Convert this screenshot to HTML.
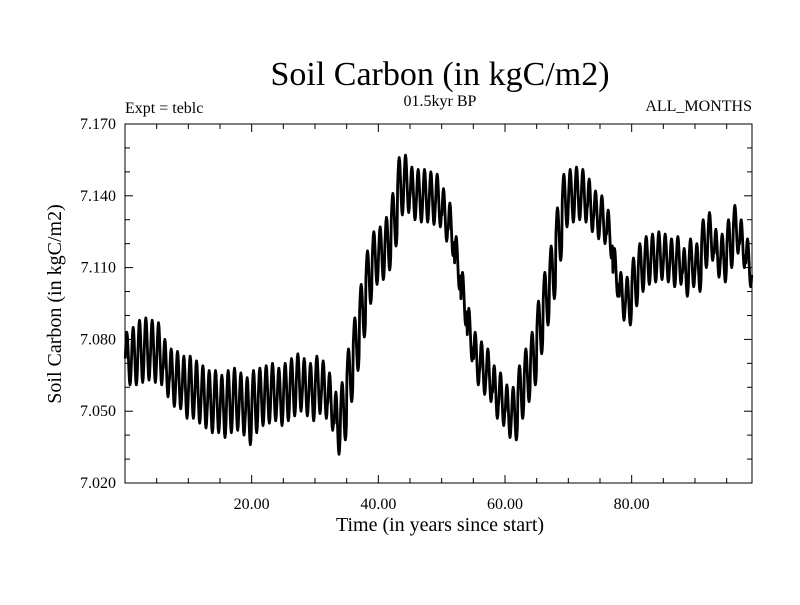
<!DOCTYPE html>
<html><head><meta charset="utf-8"><style>
html,body{margin:0;padding:0;background:#fff}
svg text{font-family:"Liberation Serif",serif;fill:#000}
</style></head><body>
<svg id="chart" width="800" height="600" viewBox="0 0 800 600" xmlns="http://www.w3.org/2000/svg">
<rect width="800" height="600" fill="#fff"/>
<text x="440" y="85" font-size="34" text-anchor="middle">Soil Carbon (in kgC/m2)</text>
<text x="440" y="106" font-size="16" text-anchor="middle">01.5kyr BP</text>
<text x="125" y="113" font-size="16">Expt = teblc</text>
<text x="752" y="111" font-size="16" text-anchor="end">ALL_MONTHS</text>
<text x="440" y="531" font-size="20" text-anchor="middle">Time (in years since start)</text>
<text x="0" y="0" font-size="20" text-anchor="middle" transform="translate(61,304) rotate(-90)">Soil Carbon (in kgC/m2)</text>
<g id="axes"></g>
<g id="series"></g>
<rect x="125" y="124" width="627" height="359" fill="none" stroke="#000" stroke-width="1"/>
</svg>
<script>
const yearMeans=[7.072,7.073,7.075,7.076,7.075,7.074,7.068,7.064,7.063,7.060,7.060,7.058,7.056,7.054,7.054,7.052,7.054,7.055,7.053,7.050,7.054,7.056,7.057,7.058,7.056,7.058,7.060,7.062,7.060,7.058,7.061,7.059,7.054,7.045,7.050,7.065,7.078,7.092,7.106,7.114,7.116,7.120,7.130,7.144,7.145,7.141,7.140,7.140,7.139,7.138,7.132,7.126,7.112,7.097,7.082,7.072,7.068,7.065,7.058,7.055,7.050,7.049,7.058,7.065,7.072,7.085,7.097,7.108,7.124,7.138,7.140,7.141,7.140,7.136,7.132,7.130,7.124,7.108,7.098,7.096,7.104,7.110,7.113,7.114,7.115,7.114,7.112,7.113,7.108,7.112,7.110,7.120,7.123,7.116,7.114,7.120,7.126,7.120,7.112];
const yearAmps=[0.011,0.012,0.013,0.013,0.013,0.013,0.012,0.012,0.012,0.013,0.013,0.013,0.013,0.013,0.013,0.013,0.013,0.013,0.013,0.014,0.013,0.012,0.012,0.012,0.012,0.012,0.012,0.012,0.012,0.012,0.012,0.012,0.012,0.013,0.012,0.011,0.011,0.011,0.011,0.011,0.011,0.011,0.011,0.012,0.012,0.011,0.011,0.011,0.011,0.011,0.011,0.011,0.011,0.011,0.011,0.011,0.011,0.011,0.011,0.011,0.011,0.011,0.011,0.011,0.011,0.011,0.011,0.011,0.011,0.011,0.011,0.011,0.011,0.011,0.010,0.010,0.010,0.010,0.010,0.010,0.010,0.010,0.010,0.010,0.010,0.010,0.010,0.010,0.010,0.010,0.010,0.010,0.010,0.010,0.010,0.010,0.010,0.010,0.010];
const seasonal=[0,0.5,0.87,1,0.87,0.5,0,-0.5,-0.87,-1,-0.87,-0.5];
const yTickLabels=["7.020","7.050","7.080","7.110","7.140","7.170"];
const xTickLabels=["20.00","40.00","60.00","80.00"];
const X0=0,X1=99,Y0=7.020,Y1=7.170;
const L=125,R=752,T=124,B=483;
const sx=v=>L+(v-X0)/(X1-X0)*(R-L);
const sy=v=>B-(v-Y0)/(Y1-Y0)*(B-T);
const NS="http://www.w3.org/2000/svg";
const axes=document.getElementById('axes');
function ln(x1,y1,x2,y2,name){const l=document.createElementNS(NS,'line');
l.setAttribute('x1',x1);l.setAttribute('y1',y1);l.setAttribute('x2',x2);l.setAttribute('y2',y2);
l.setAttribute('stroke','#000');l.setAttribute('stroke-width','1');


axes.appendChild(l);}
function tx(x,y,s,anchor,name){const t=document.createElementNS(NS,'text');
t.setAttribute('x',x);t.setAttribute('y',y);t.setAttribute('font-size','16');t.setAttribute('text-anchor',anchor);t.textContent=s;


axes.appendChild(t);}
for(let i=0;i<=15;i++){const v=Y0+i*0.01;const y=sy(v);const major=i%3===0;const len=major?8:5;
ln(L,y,L+len,y,'y-tick');ln(R,y,R-len,y,'y-tick-right');}
yTickLabels.forEach(s=>tx(116,sy(parseFloat(s))+5,s,'end','y-tick-label'));
for(let v=5;v<X1;v+=5){const x=sx(v);const major=v%20===0;const len=major?8:5;
ln(x,B,x,B-len,'x-tick');ln(x,T,x,T+len,'x-tick-top');}
xTickLabels.forEach(s=>tx(sx(parseFloat(s)),509,s,'middle','x-tick-label'));
let pts=[];
for(let y=0;y<yearMeans.length;y++){for(let m=0;m<12;m++){const t=y+(m+0.5)/12;if(t>X1)break;
const v=yearMeans[y]+yearAmps[y]*seasonal[m];pts.push(sx(t).toFixed(2)+','+sy(v).toFixed(2));}}
const pl=document.createElementNS(NS,'polyline');
pl.setAttribute('points',pts.join(' '));pl.setAttribute('fill','none');pl.setAttribute('stroke','#000');pl.setAttribute('stroke-width','2.8');pl.setAttribute('stroke-linejoin','round');


document.getElementById('series').appendChild(pl);
</script>
</body></html>
